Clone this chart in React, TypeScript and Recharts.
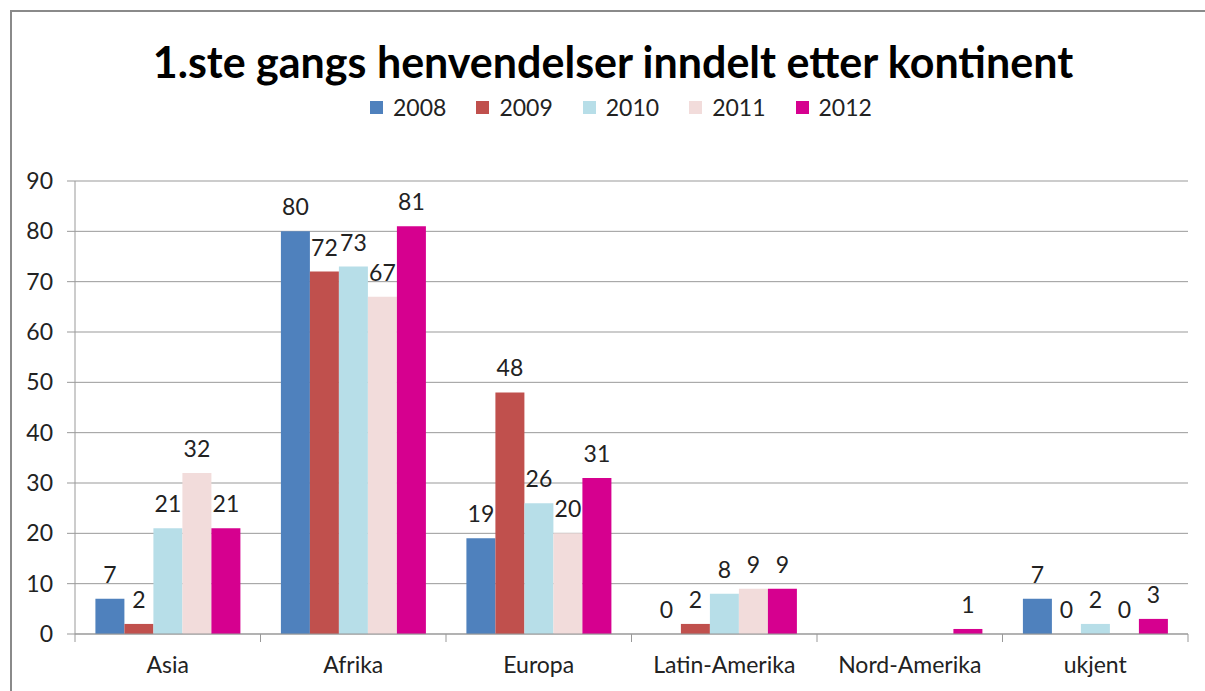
import {
  Bar,
  BarChart,
  CartesianGrid,
  LabelList,
  XAxis,
  YAxis,
} from "recharts";

const continents = ["Asia", "Afrika", "Europa", "Latin-Amerika", "Nord-Amerika", "ukjent"];
const years = ["2008", "2009", "2010", "2011", "2012"];
const v2008 = [7, 80, 19, 0, null, 7];
const v2009 = [2, 72, 48, 2, null, 0];
const v2010 = [21, 73, 26, 8, null, 2];
const v2011 = [32, 67, 20, 9, null, 0];
const v2012 = [21, 81, 31, 9, 1, 3];
const yTicks = [0, 10, 20, 30, 40, 50, 60, 70, 80, 90];

const colors = ["#4F81BD", "#C0504D", "#B7DEE8", "#F2DCDB", "#D6008F"];
const seriesValues = [v2008, v2009, v2010, v2011, v2012];

const data = continents.map((name, i) => {
  const row: Record<string, string | number | null> = { name };
  years.forEach((y, k) => {
    row[y] = seriesValues[k][i];
  });
  return row;
});

const FONT = "Lato, 'Noto Sans', sans-serif";
const W = 1205;
const H = 691;
const PLOT_LEFT = 75;
const PLOT_RIGHT = 1188;
const PLOT_TOP = 181;
const PLOT_BOTTOM = 634;
const BAND = (PLOT_RIGHT - PLOT_LEFT) / continents.length;

function CategoryTick(props: any) {
  const { x, payload, index } = props;
  const left = x - BAND / 2;
  const right = x + BAND / 2;
  return (
    <g>
      <line x1={left} x2={left} y1={PLOT_BOTTOM} y2={PLOT_BOTTOM + 8} stroke="#999" />
      {index === continents.length - 1 && (
        <line x1={right} x2={right} y1={PLOT_BOTTOM} y2={PLOT_BOTTOM + 8} stroke="#999" />
      )}
      <text x={x} y={PLOT_BOTTOM + 39} textAnchor="middle" fontSize={23} fill="#222" fontFamily={FONT}>
        {payload.value}
      </text>
    </g>
  );
}

function ValueLabel(props: any) {
  const { x, y, width, value } = props;
  if (value === null || value === undefined) return null;
  return (
    <text
      x={Number(x) + Number(width) / 2}
      y={Number(y) - 16}
      textAnchor="middle"
      fontSize={23}
      fill="#222"
      fontFamily={FONT}
    >
      {value}
    </text>
  );
}

// keeps zero-value bars in the label pipeline (a hair-thin rect, invisible)
const keepZero = (v: any) => (v === 0 ? 0.01 : 0);

export default function App() {
  return (
    <div
      style={{
        position: "fixed",
        left: 0,
        top: 0,
        width: W,
        height: H,
        overflow: "hidden",
        background: "#fff",
      }}
    >
      <div
        style={{
          position: "absolute",
          left: 10,
          top: 10,
          width: 1220,
          height: 720,
          border: "2px solid #8a8a8a",
          boxSizing: "border-box",
        }}
      />
      <div
        style={{
          position: "absolute",
          left: 0,
          width: 1226,
          top: 36,
          textAlign: "center",
          fontFamily: FONT,
          fontWeight: 700,
          fontSize: 43,
          color: "#000",
          lineHeight: "52px",
        }}
      >
        1.ste gangs henvendelser inndelt etter kontinent
      </div>
      <div
        style={{
          position: "absolute",
          left: 370,
          top: 93,
          display: "flex",
          gap: 30,
          fontFamily: FONT,
          fontSize: 23,
          color: "#222",
          lineHeight: "28px",
        }}
      >
        {years.map((y, k) => (
          <div key={y} style={{ display: "flex", alignItems: "center" }}>
            <span
              style={{
                display: "inline-block",
                width: 13,
                height: 13,
                background: colors[k],
                marginRight: 10,
              }}
            />
            <span>{y}</span>
          </div>
        ))}
      </div>
      <div style={{ position: "absolute", left: 0, top: 0 }}>
        <BarChart
          width={W}
          height={H}
          data={data}
          margin={{ top: PLOT_TOP, right: W - PLOT_RIGHT, left: 0, bottom: 12 }}
          barCategoryGap="11%"
          barGap={0}
        >
          <CartesianGrid vertical={false} stroke="#999" />
          <XAxis
            dataKey="name"
            height={H - PLOT_BOTTOM - 12}
            axisLine={{ stroke: "#999" }}
            tickLine={false}
            tick={<CategoryTick />}
            interval={0}
          />
          <YAxis
            width={PLOT_LEFT}
            domain={[0, 90]}
            ticks={yTicks}
            interval={0}
            axisLine={{ stroke: "#999" }}
            tickLine={{ stroke: "#999" }}
            tickSize={8}
            tickMargin={14}
            tick={{ fontSize: 23, fill: "#222", fontFamily: FONT }}
          />
          {years.map((y, k) => (
            <Bar
              key={y}
              dataKey={y}
              fill={colors[k]}
              minPointSize={keepZero}
              isAnimationActive={false}
            >
              <LabelList dataKey={y} content={<ValueLabel />} />
            </Bar>
          ))}
        </BarChart>
      </div>
    </div>
  );
}
